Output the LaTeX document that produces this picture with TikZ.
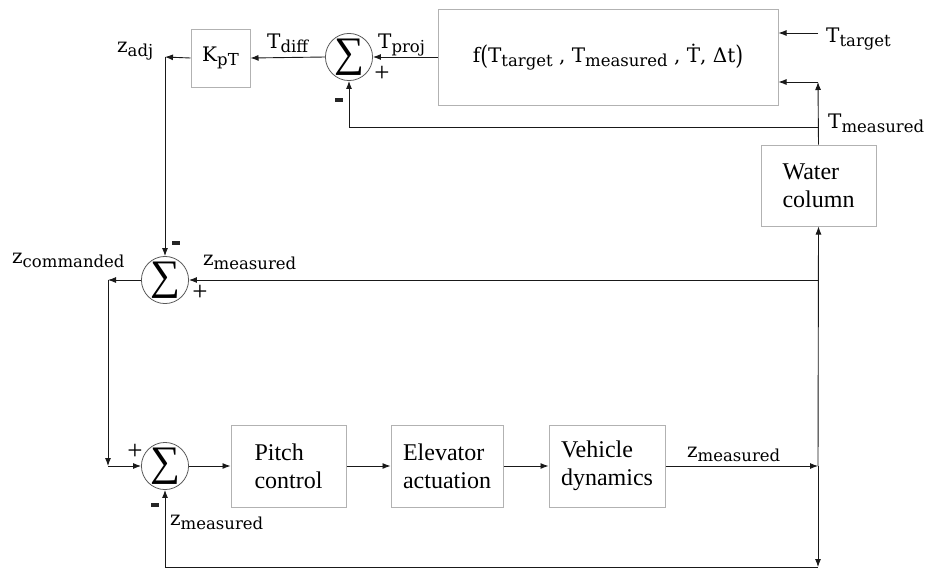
\documentclass[tikz,border=0pt]{standalone}
\usepackage{fontspec}
\usepackage{graphicx}
\setmainfont{Liberation Serif}
\newfontfamily\eqfont{DejaVu Serif}
\usetikzlibrary{arrows.meta}
\newcommand\sub[2]{#1\raisebox{-0.45ex}{\fontsize{16.5}{16.5}\selectfont #2}}
\newcommand\sumsym{\fontsize{42}{42}\selectfont ∑}
\newcommand\bigpar[1]{\raisebox{-2pt}{\scalebox{1}[1.3]{#1}}}
\begin{document}
\begin{tikzpicture}[x=1pt,y=-1pt,
  blk/.style={draw=black!30, line width=1pt, align=left, inner sep=0pt,
    font=\fontsize{24}{28}\selectfont},
  sumnode/.style={circle, draw=black!65, line width=0.8pt, minimum size=44pt, inner sep=0pt},
  eq/.style={font=\eqfont\fontsize{20}{24}\selectfont, inner sep=0pt},
  sgn/.style={font=\fontsize{27}{27}\selectfont, inner sep=0pt},
  neg/.style={fill=black!85, minimum width=8.5pt, minimum height=4pt, inner sep=0pt},
  wire/.style={draw=black!90, line width=0.9pt, -{Latex[length=8pt,width=6pt]}}
]
\useasboundingbox (0,0) rectangle (937,574);

% blocks
\node[blk, eq, minimum width=340pt, minimum height=96pt] (f) at (608,57)
  {f\bigpar{(}\sub{T}{target} , \sub{T}{measured} , \.{T}, Δt\bigpar{)}};
\node[blk, minimum width=115pt, minimum height=81pt] (wc) at (818.5,185.5) {Water\\column};
\node[blk, eq, minimum width=59pt, minimum height=58pt] (k) at (220.5,58) {\sub{K}{pT}};
\node[blk, minimum width=115pt, minimum height=82pt] (pc) at (288.5,466) {Pitch\\control};
\node[blk, minimum width=112pt, minimum height=82pt] (ea) at (447,466) {Elevator\\actuation};
\node[blk, minimum width=116pt, minimum height=82pt] (vd) at (607,466) {Vehicle\\dynamics};

% summing junctions
\node[sumnode] (s1) at (349,57) {\sumsym};
\node[sumnode] (s2) at (165,280) {\sumsym};
\node[sumnode] (s3) at (165,466) {\sumsym};

% branch points
\coordinate (tin) at (818,33);
\coordinate (tm) at (818,82);
\coordinate (tfb) at (818,127);
\coordinate (zadj) at (165,57);
\coordinate (jm) at (818,280);
\coordinate (zc) at (108,280);
\coordinate (zl) at (108,466);
\coordinate (jz) at (818,466);
\coordinate (jb) at (818,567);

% connectors
\draw[wire] (tin) -- (tin -| f.east);
\draw[wire] (wc.north) -- (tm);
\draw[wire] (tm) -- (tm -| f.east);
\draw[wire] (tfb) -| (s1.south);
\draw[wire] (f.west |- s1) -- (s1.east);
\draw[wire] (s1.west) -- (k.east);
\draw[wire] (k.west) -- (zadj);
\draw[wire] (zadj) -- (s2.north);
\draw[wire] (jm) -- (s2.east);
\draw[wire] (s2.west) -- (zc);
\draw[wire] (zc) -- (zl);
\draw[wire] (zl) -- (s3.west);
\draw[wire] (s3.east) -- (pc.west);
\draw[wire] (pc.east) -- (ea.west);
\draw[wire] (ea.east) -- (vd.west);
\draw[wire] (vd.east) -- (jz);
\draw[wire] (jz) -- (wc.south);
\draw[wire] (jz) -- (jb);
\draw[wire] (jb) -| (s3.south);

% signal labels
\node[eq, anchor=base west] (lttarget) at (826,42) {\sub{T}{target}};
\node[eq, anchor=base west] (ltmeas) at (828,128) {\sub{T}{measured}};
\node[eq, anchor=base west] (ltproj) at (378,48) {\sub{T}{proj}};
\node[eq, anchor=base west] (ltdiff) at (267,48) {\sub{T}{diff}};
\node[eq, anchor=base west] (lzadj) at (117,52) {\sub{z}{adj}};
\node[eq, anchor=base west] (lzcmd) at (12,263) {\sub{z}{commanded}};
\node[eq, anchor=base west] (lzm1) at (203,265) {\sub{z}{measured}};
\node[eq, anchor=base west] (lzm2) at (170,525) {\sub{z}{measured}};
\node[eq, anchor=base west] (lzm3) at (687,457) {\sub{z}{measured}};

% signs
\node[sgn] (p1) at (382,74) {+};
\node[neg] (m1) at (339,100) {};
\node[neg] (m2) at (176,243) {};
\node[sgn] (p2) at (200,293) {+};
\node[sgn] (p3) at (135,452) {+};
\node[neg] (m3) at (155,505) {};
\end{tikzpicture}
\end{document}
